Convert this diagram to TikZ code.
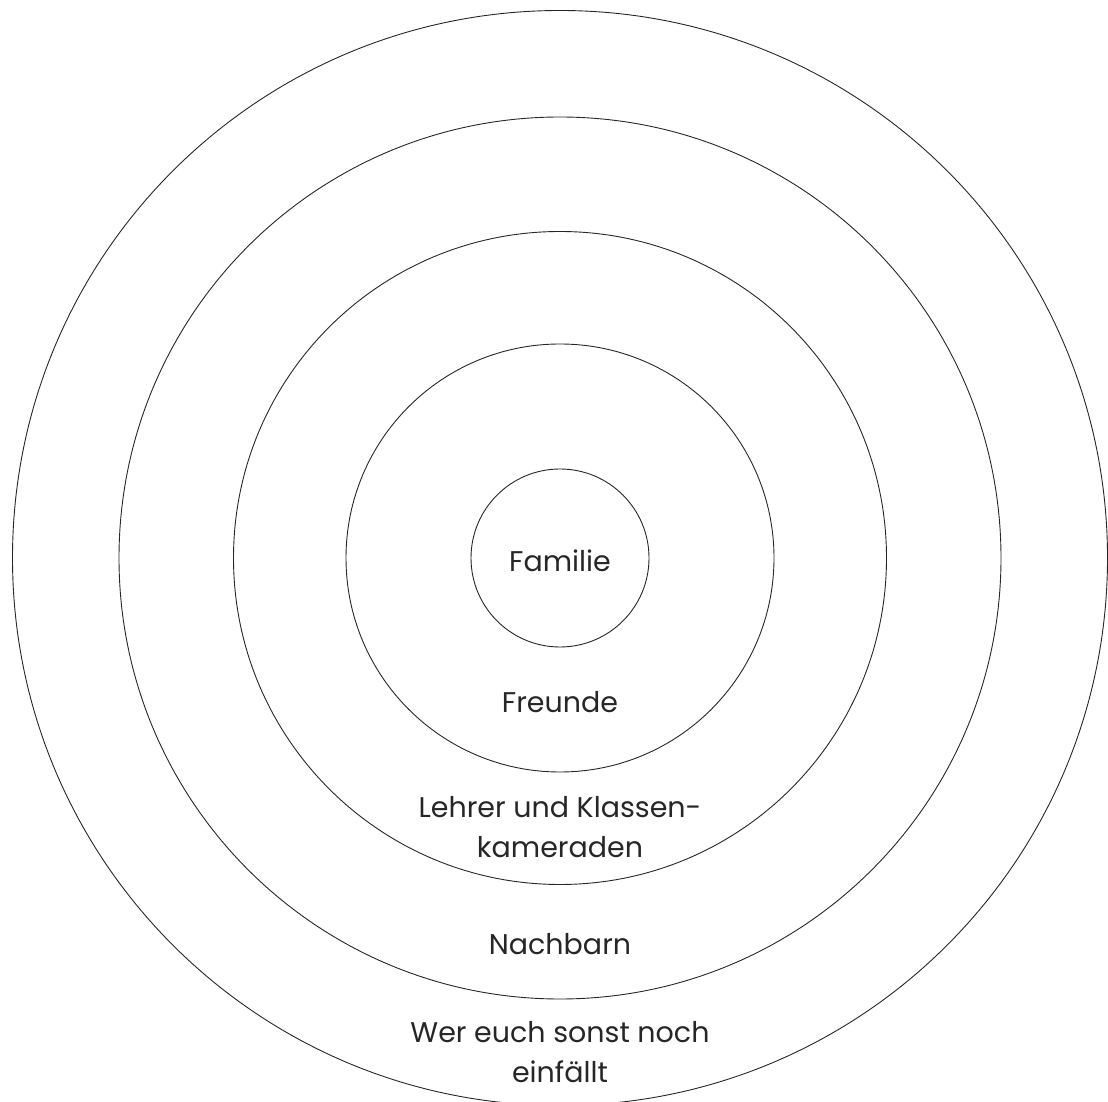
\documentclass[tikz,border=0pt]{standalone}
\usepackage{fontspec}
\setmainfont{Poppins}
\begin{document}
\begin{tikzpicture}[x=1pt,y=1pt,
  ring/.style={draw=black!85, line width=0.9pt},
  lbl/.style={text=black!85, align=center, inner sep=0pt, font=\fontsize{28.5}{40}\selectfont}]
\useasboundingbox (0,0) rectangle (1108,1101);
\clip (0,0) rectangle (1108,1101);
\coordinate (c) at (560,543);
\draw[ring] (c) circle (547.5);
\draw[ring] (c) circle (441);
\draw[ring] (c) circle (326.5);
\draw[ring] (c) circle (214);
\draw[ring] (c) circle (89);
\node[lbl, anchor=base] (familie) at (560,529) {Familie};
\node[lbl, anchor=base] (freunde) at (560,388) {Freunde};
\node[lbl, anchor=north] (lehrer) at (560,305) {Lehrer und Klassen-\\kameraden};
\node[lbl, anchor=base] (nachbarn) at (560,147) {Nachbarn};
\node[lbl, anchor=north] (wer) at (560,80) {Wer euch sonst noch\\einfällt};
\end{tikzpicture}
\end{document}
